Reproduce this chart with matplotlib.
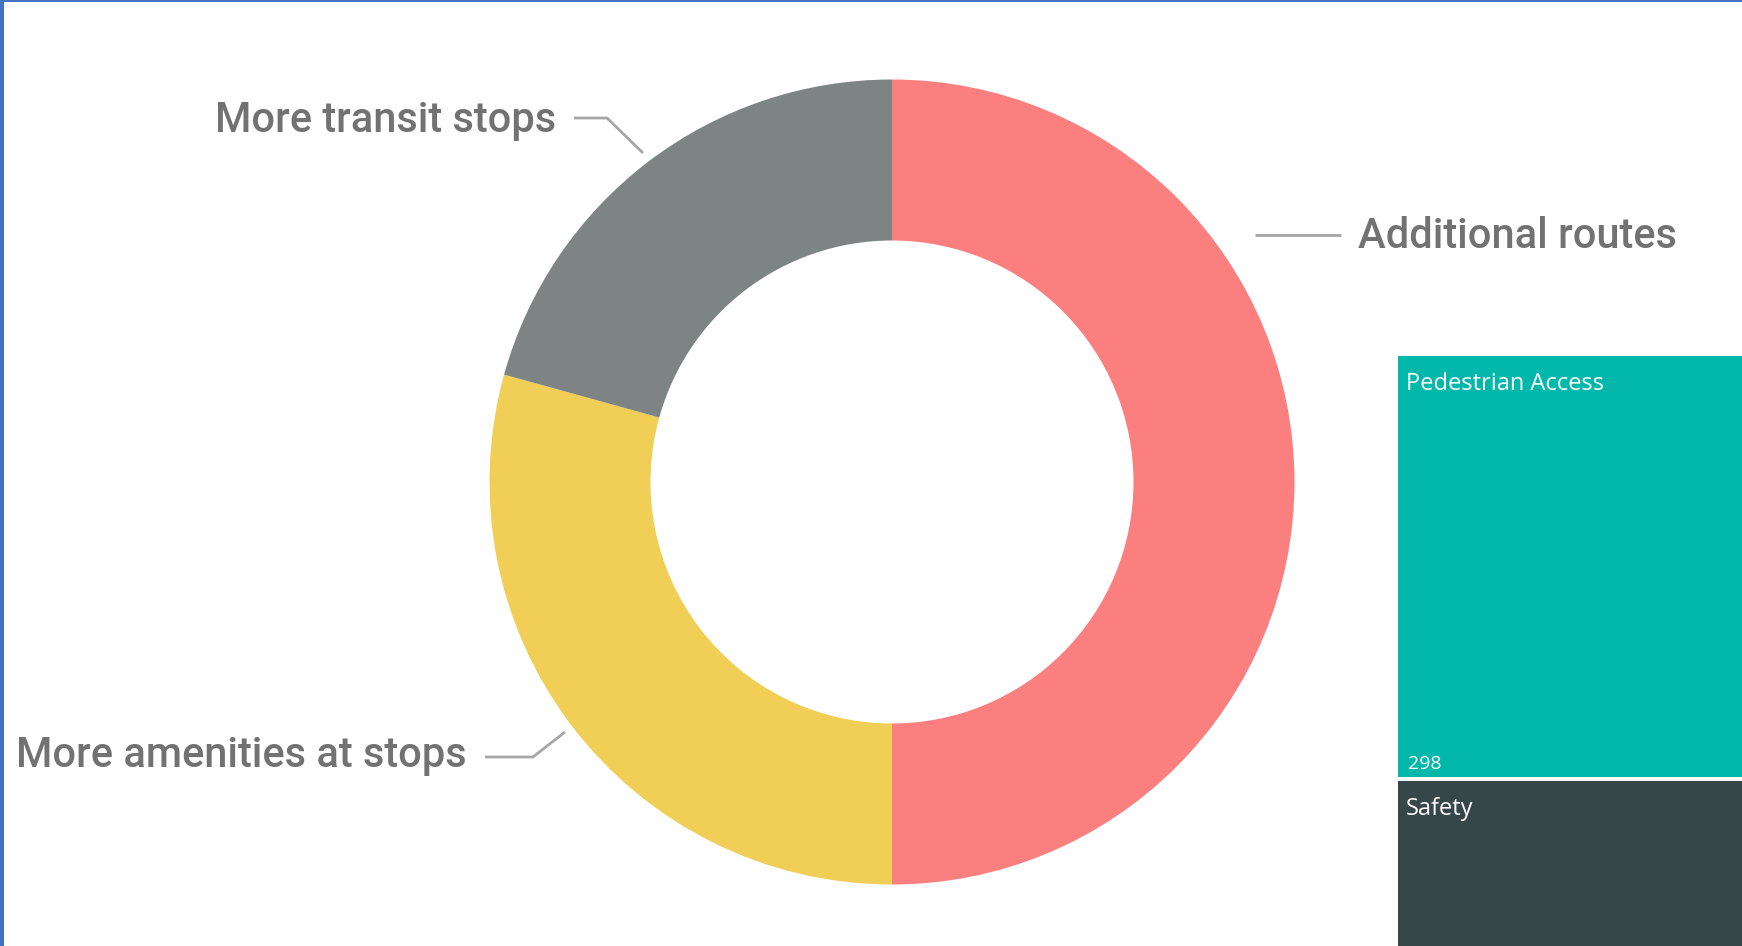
import matplotlib
matplotlib.use("Agg")
import matplotlib.pyplot as plt
from matplotlib.patches import Rectangle
import matplotlib.transforms as mtransforms

# ---------------- data ----------------
donut_labels = ["Additional routes", "More amenities at stops", "More transit stops"]
donut_values = [50.0, 29.3, 20.7]
donut_colors = ["#FC7F7F", "#F1CE55", "#7D8483"]

tree_labels = ["Pedestrian Access", "Safety"]
tree_values = [298, 160]          # Safety tile is cropped by the frame; value estimated
tree_value_text = ["298", ""]
tree_colors = ["#01B8AA", "#374649"]

# ---------------- figure ----------------
W, H = 1742, 946
DPI = 100
fig = plt.figure(figsize=(W / DPI, H / DPI), dpi=DPI)
fig.patch.set_facecolor("white")

def fig_box(x0, y0, x1, y1):
    """pixel box (from top-left) -> figure fraction rect"""
    return [x0 / W, 1 - y1 / H, (x1 - x0) / W, (y1 - y0) / H]

# Donut
cx, cy, R = 892, 482, 402.5
ax_d = fig.add_axes(fig_box(cx - R, cy - R, cx + R, cy + R))
ax_d.pie(donut_values, colors=donut_colors, startangle=90, counterclock=False,
         radius=1.0, wedgeprops=dict(width=0.4, linewidth=0))
ax_d.set_xlim(-1, 1)
ax_d.set_ylim(-1, 1)
ax_d.set_aspect("equal", adjustable="box")
ax_d.axis("off")

# Treemap column (cropped by frame)
tx0, ty0 = 1398, 356
ped_px = 421.0
ax_t = fig.add_axes(fig_box(tx0, ty0, W, H))
unit_px = ped_px / tree_values[0]
ymax = (H - ty0) / unit_px
gap = 3.5 / unit_px
bottoms = [0, tree_values[0] + gap]
ax_t.bar([0] * len(tree_values), tree_values, bottom=bottoms, width=1.0,
         align="edge", color=tree_colors, linewidth=0)
ax_t.set_xlim(0, 1)
ax_t.set_ylim(ymax, 0)
ax_t.axis("off")

tf_font = "Open Sans"
pt = 72 / DPI
for lab, val, b, v in zip(tree_labels, tree_value_text, bottoms, tree_values):
    ax_t.text(0, b, lab, transform=mtransforms.offset_copy(ax_t.transData, fig=fig,
              x=8 * pt, y=-34 * pt, units="points"),
              fontsize=17, family=tf_font, color="white", ha="left", va="baseline")
    if val:
        ax_t.text(0, b + v, val, transform=mtransforms.offset_copy(ax_t.transData, fig=fig,
                  x=10 * pt, y=8 * pt, units="points"),
                  fontsize=14, family=tf_font, color="white", ha="left", va="baseline")

# Overlay in pixel coordinates for labels / leader lines / frame
ov = fig.add_axes([0, 0, 1, 1])
ov.set_xlim(0, W)
ov.set_ylim(H, 0)
ov.axis("off")

lab_font = "Roboto"
lab_color = "#727272"
line_color = "#A6A6A6"

# leader lines
ov.plot([574, 607, 643], [118, 118, 153], color=line_color, lw=2.0, solid_capstyle="butt")
ov.plot([1255, 1341], [235, 235], color=line_color, lw=2.0, solid_capstyle="butt")
ov.plot([485, 533, 565], [757, 757, 732], color=line_color, lw=2.0, solid_capstyle="butt")

lab_kw = dict(fontsize=30, family=lab_font, color=lab_color, fontweight="medium", va="baseline")
ov.text(1358, 248, donut_labels[0], ha="left", **lab_kw)
ov.text(467, 767, donut_labels[1], ha="right", **lab_kw)
ov.text(556, 132, donut_labels[2], ha="right", **lab_kw)

# blue frame edges
frame_c = "#4472C4"
ov.add_patch(Rectangle((0, 0), 4, H, color=frame_c, lw=0))
ov.add_patch(Rectangle((0, 0), W, 2.5, color=frame_c, lw=0))

fig.savefig("out.png", dpi=DPI, facecolor="white")
